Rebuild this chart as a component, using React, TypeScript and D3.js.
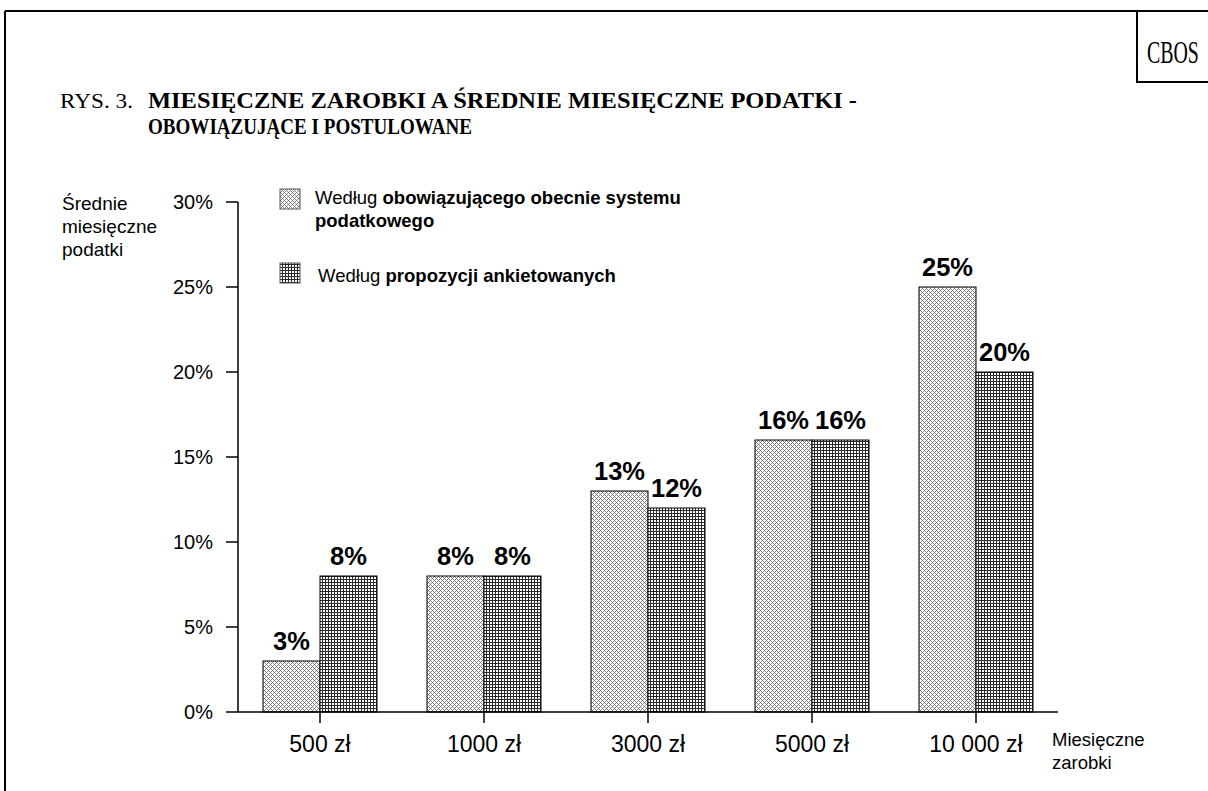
import React from "react";
import * as d3 from "d3";

const categories = ["500 zł", "1000 zł", "3000 zł", "5000 zł", "10 000 zł"];
const seriesKeys = ["obecny", "postulowany"];
const currentValues = [3, 8, 13, 16, 25];
const proposedValues = [8, 8, 12, 16, 20];
const yTicks = [0, 5, 10, 15, 20, 25, 30];

const W = 1208;
const H = 791;

export default function App() {
  const y = d3.scaleLinear().domain([0, 30]).range([712, 202]);
  const x0 = d3.scaleBand<string>().domain(categories).range([238, 1058]).padding(0);
  const x1 = d3
    .scaleBand<string>()
    .domain(seriesKeys)
    .range([0, x0.bandwidth()])
    .paddingInner(0)
    .paddingOuter(0.4386);

  const rows = categories.map((c, i) => ({
    cat: c,
    vals: [
      { key: seriesKeys[0], v: currentValues[i] },
      { key: seriesKeys[1], v: proposedValues[i] },
    ],
  }));

  const sans = "'Liberation Sans', Arial, sans-serif";
  const serif = "'Liberation Serif', 'Times New Roman', serif";
  const fillFor = (k: string) => (k === seriesKeys[0] ? "url(#patA)" : "url(#patB)");

  return (
    <svg
      width={W}
      height={H}
      style={{ position: "absolute", left: 0, top: 0, background: "#fff" }}
    >
      <defs>
        <pattern id="patA" width="4" height="4" patternUnits="userSpaceOnUse">
          <rect width="4" height="4" fill="#fff" />
          <rect x="0" y="0" width="1" height="1" fill="#6e6e6e" />
          <rect x="1" y="1" width="1" height="1" fill="#8a8a8a" />
          <rect x="2" y="2" width="1" height="1" fill="#6e6e6e" />
          <rect x="3" y="3" width="1" height="1" fill="#8a8a8a" />
          <rect x="1" y="3" width="1" height="1" fill="#8a8a8a" />
          <rect x="3" y="1" width="1" height="1" fill="#8a8a8a" />
        </pattern>
        <pattern id="patB" width="3" height="3" patternUnits="userSpaceOnUse">
          <rect width="3" height="3" fill="#fff" />
          <rect x="0" y="0" width="1" height="3" fill="#2a2a2a" />
          <rect x="0" y="0" width="3" height="1" fill="#2a2a2a" />
        </pattern>
      </defs>

      {/* frame */}
      <line x1={5} y1={11} x2={W} y2={11} stroke="#000" strokeWidth={2} />
      <line x1={5} y1={11} x2={5} y2={H} stroke="#000" strokeWidth={2} />
      <polyline points={`1137,11 1137,82 ${W},82`} fill="none" stroke="#000" strokeWidth={2} />
      <text
        transform="translate(1147,63) scale(0.64,1)"
        fontFamily={serif}
        fontSize={31}
      >
        CBOS
      </text>

      {/* title */}
      <text x={60} y={108} fontFamily={serif} fontSize={20} textLength={73} lengthAdjust="spacingAndGlyphs">
        RYS. 3.
      </text>
      <text
        x={148}
        y={108}
        fontFamily={serif}
        fontSize={23}
        fontWeight="bold"
        textLength={709}
        lengthAdjust="spacingAndGlyphs"
      >
        MIESIĘCZNE ZAROBKI A ŚREDNIE MIESIĘCZNE PODATKI -
      </text>
      <text
        x={148}
        y={134}
        fontFamily={serif}
        fontSize={23}
        fontWeight="bold"
        textLength={324}
        lengthAdjust="spacingAndGlyphs"
      >
        OBOWIĄZUJĄCE I POSTULOWANE
      </text>

      {/* y axis title */}
      <g fontFamily={sans} fontSize={19} fill="#000">
        <text x={62} y={210}>Średnie</text>
        <text x={62} y={233}>miesięczne</text>
        <text x={62} y={256}>podatki</text>
      </g>

      {/* x axis title */}
      <g fontFamily={sans} fontSize={18.5} fill="#000">
        <text x={1052} y={746}>Miesięczne</text>
        <text x={1052} y={769}>zarobki</text>
      </g>

      {/* legend */}
      <rect x={280} y={189} width={20} height={20} fill="url(#patA)" stroke="#555" strokeWidth={1} />
      <text x={315} y={204} fontFamily={sans} fontSize={18.5}>
        Według <tspan fontWeight="bold">obowiązującego obecnie systemu</tspan>
      </text>
      <text x={315} y={227} fontFamily={sans} fontSize={18.5} fontWeight="bold">
        podatkowego
      </text>
      <rect x={280} y={263} width={20} height={20} fill="url(#patB)" stroke="#555" strokeWidth={1} />
      <text x={318} y={282} fontFamily={sans} fontSize={18.5}>
        Według <tspan fontWeight="bold">propozycji ankietowanych</tspan>
      </text>

      {/* bars */}
      {rows.map((r) => (
        <g key={r.cat} transform={`translate(${x0(r.cat)},0)`}>
          {r.vals.map((d) => (
            <rect
              key={d.key}
              x={x1(d.key)}
              y={y(d.v)}
              width={x1.bandwidth()}
              height={y(0) - y(d.v)}
              fill={fillFor(d.key)}
              stroke="#000"
              strokeWidth={1}
            />
          ))}
          {r.vals.map((d) => (
            <text
              key={d.key + "l"}
              x={(x1(d.key) as number) + x1.bandwidth() / 2}
              y={y(d.v) - 11}
              textAnchor="middle"
              fontFamily={sans}
              fontWeight="bold"
              fontSize={25.5}
            >
              {d.v}%
            </text>
          ))}
        </g>
      ))}

      {/* y axis */}
      <line x1={238} y1={y(30)} x2={238} y2={y(0)} stroke="#000" strokeWidth={1.5} />
      {yTicks.map((t) => (
        <g key={t}>
          <line x1={226} y1={y(t)} x2={238} y2={y(t)} stroke="#000" strokeWidth={1.5} />
          <text x={213} y={y(t) + 7} textAnchor="end" fontFamily={sans} fontSize={20}>
            {t}%
          </text>
        </g>
      ))}

      {/* x axis */}
      <line x1={238} y1={y(0)} x2={1058} y2={y(0)} stroke="#000" strokeWidth={1.5} />
      {categories.map((c) => {
        const cx = (x0(c) as number) + x0.bandwidth() / 2;
        return (
          <g key={c}>
            <line x1={cx} y1={y(0)} x2={cx} y2={y(0) + 11} stroke="#000" strokeWidth={1.5} />
            <text x={cx} y={752} textAnchor="middle" fontFamily={sans} fontSize={23}>
              {c}
            </text>
          </g>
        );
      })}
    </svg>
  );
}
